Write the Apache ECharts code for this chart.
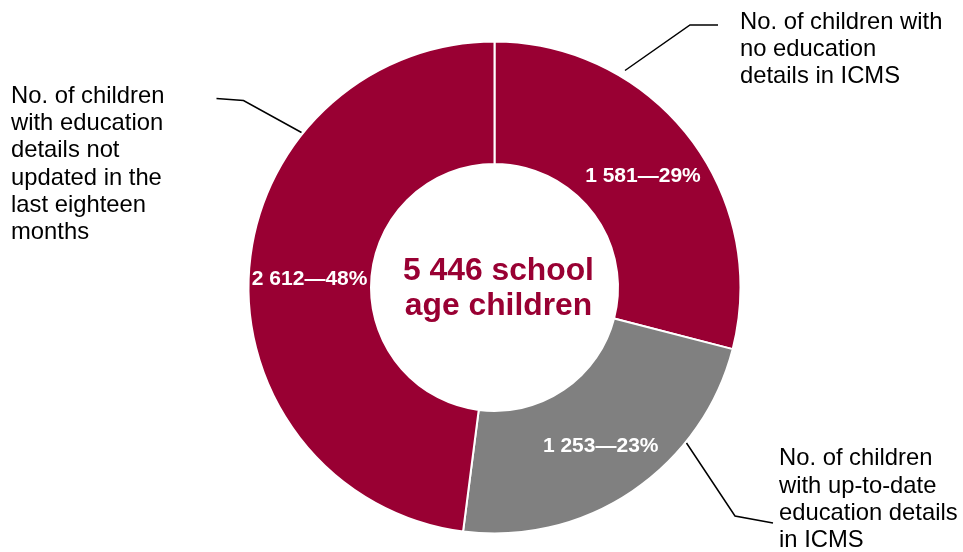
<!DOCTYPE html>
<html>
<head>
<meta charset="utf-8">
<script src="https://cdn.jsdelivr.net/npm/echarts@6/dist/echarts.min.js"></script>
<style>
html,body{margin:0;padding:0;background:#fff;}
#chart{width:963px;height:552px;}
</style>
</head>
<body>
<div id="chart"></div>
<script>
// Data
var categories = [
  'No. of children with\nno education\ndetails in ICMS',
  'No. of children\nwith up-to-date\neducation details\nin ICMS',
  'No. of children\nwith education\ndetails not\nupdated in the\nlast eighteen\nmonths'
];
var values = [1581, 1253, 2612];
var sliceColors = ['#990033', '#808080', '#990033'];
var centerTitle = '5 446 school\nage children';

var FONT = '"Liberation Sans", Arial, Helvetica, sans-serif';
var total = values.reduce(function (a, b) { return a + b; }, 0);
function fmtNum(n) {
  return String(n).replace(/\B(?=(\d{3})+(?!\d))/g, ' ');
}

var pieData = categories.map(function (c, i) {
  return { name: c, value: values[i], itemStyle: { color: sliceColors[i] } };
});
var ghostData = categories.map(function (c, i) {
  return { name: c, value: values[i] };
});

// Annotation layout (label boxes and leader lines), in pixels
var labelBoxes = [
  { x: 740, y: 8.5, line: [[625, 70.5], [690, 25], [718, 25]] },
  { x: 779, y: 445, line: [[686.5, 443], [735, 516], [773, 523]] },
  { x: 11, y: 82.5, line: [[301.5, 132.5], [243.5, 100.5], [216.5, 98.5]] }
];
var insideNudge = [[0, 3.5], [1, 3], [2.5, 3.5]];

var center = [494.5, 287.5];
var radius = [123.5, 246];

var chart = echarts.init(document.getElementById('chart'), null, { renderer: 'canvas' });
chart.setOption({
  animation: false,
  backgroundColor: '#fff',
  graphic: [{
    type: 'text',
    x: 498.5,
    y: 288.5,
    style: {
      text: centerTitle,
      fill: '#990033',
      font: 'bold 31.8px ' + FONT,
      fontSize: 31.8,
      fontWeight: 'bold',
      fontFamily: FONT,
      lineHeight: 35,
      align: 'center',
      verticalAlign: 'middle',
      textAlign: 'center',
      textVerticalAlign: 'middle'
    }
  }],
  series: [
    {
      type: 'pie',
      center: center,
      radius: radius,
      startAngle: 90,
      clockwise: true,
      avoidLabelOverlap: false,
      silent: true,
      itemStyle: { borderColor: '#fff', borderWidth: 2 },
      label: {
        show: true,
        position: 'inside',
        color: '#fff',
        fontFamily: FONT,
        fontWeight: 'bold',
        fontSize: 21,
        formatter: function (p) {
          return fmtNum(p.value) + '\u2014' + Math.round(p.value / total * 100) + '%';
        }
      },
      labelLine: { show: false },
      labelLayout: function (params) {
        var n = insideNudge[params.dataIndex];
        return { dx: n[0], dy: n[1] };
      },
      data: pieData
    },
    {
      type: 'pie',
      center: center,
      radius: radius,
      startAngle: 90,
      clockwise: true,
      avoidLabelOverlap: false,
      silent: true,
      z: 3,
      itemStyle: { color: 'rgba(0,0,0,0)', borderWidth: 0 },
      label: {
        show: true,
        position: 'outside',
        color: '#000',
        fontFamily: FONT,
        fontSize: 23.8,
        lineHeight: 27.3,
        formatter: function (p) { return p.name; }
      },
      labelLine: {
        show: true,
        length: 20,
        length2: 20,
        lineStyle: { color: '#000', width: 1.5 }
      },
      labelLayout: function (params) {
        var b = labelBoxes[params.dataIndex];
        return {
          x: b.x,
          y: b.y,
          align: 'left',
          verticalAlign: 'top',
          labelLinePoints: b.line
        };
      },
      data: ghostData
    }
  ]
});
</script>
</body>
</html>
